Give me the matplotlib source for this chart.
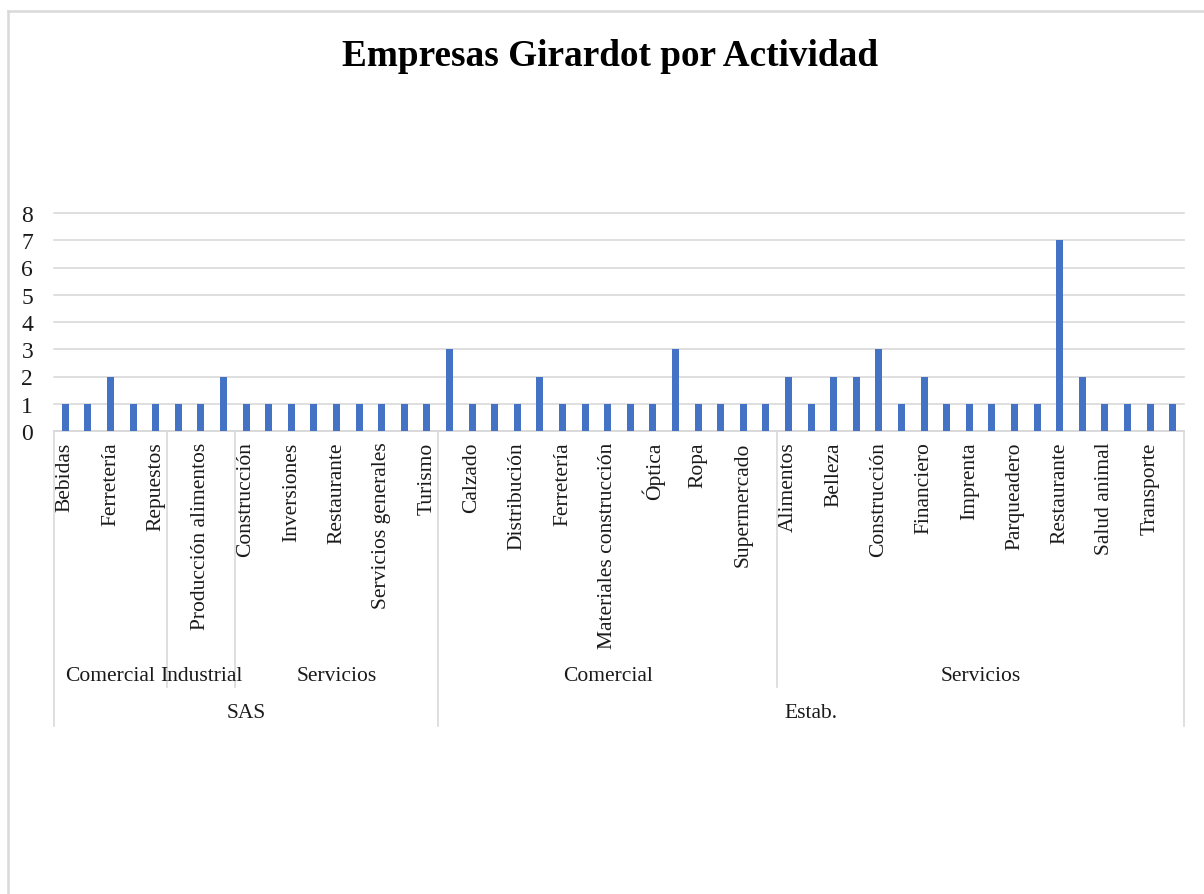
import matplotlib
matplotlib.use("Agg")
import matplotlib.pyplot as plt
from matplotlib.lines import Line2D

plt.rcParams['font.family'] = ['Liberation Serif', 'DejaVu Serif']

title = "Empresas Girardot por Actividad"

# Activity labels (Excel shows every other label; hidden ones left blank)
sas_comercial = ["Bebidas", "", "Ferretería", "", "Repuestos"]
sas_industrial = ["", "Producción alimentos", ""]
sas_servicios = ["Construcción", "", "Inversiones", "", "Restaurante", "",
                 "Servicios generales", "", "Turismo"]
estab_comercial = ["", "Calzado", "", "Distribución", "", "Ferretería", "",
                   "Materiales construcción", "", "Óptica", "", "Ropa", "",
                   "Supermercado", ""]
estab_servicios = ["Alimentos", "", "Belleza", "", "Construcción", "", "Financiero",
                   "", "Imprenta", "", "Parqueadero", "", "Restaurante", "",
                   "Salud animal", "", "Transporte", ""]

v_sas_comercial = [1, 1, 2, 1, 1]
v_sas_industrial = [1, 1, 2]
v_sas_servicios = [1, 1, 1, 1, 1, 1, 1, 1, 1]
v_estab_comercial = [3, 1, 1, 1, 2, 1, 1, 1, 1, 1, 3, 1, 1, 1, 1]
v_estab_servicios = [2, 1, 2, 2, 3, 1, 2, 1, 1, 1, 1, 1, 7, 2, 1, 1, 1, 1]

sector_names = ["Comercial", "Industrial", "Servicios", "Comercial", "Servicios"]
type_names = ["SAS", "Estab."]

groups = [sas_comercial, sas_industrial, sas_servicios, estab_comercial, estab_servicios]
group_vals = [v_sas_comercial, v_sas_industrial, v_sas_servicios, v_estab_comercial, v_estab_servicios]
type_of_group = [0, 0, 0, 1, 1]

labels = [l for g in groups for l in g]
values = [v for g in group_vals for v in g]
n = len(values)
x = list(range(n))

W, H = 1204, 895
fig = plt.figure(figsize=(W / 100, H / 100), dpi=100)
fig.patch.set_facecolor("white")

txt_c = "#1a1a1a"

# chart frame (top & left visible)
frame_c = "#d9d9d9"
fig.add_artist(Line2D([7.5 / W, 7.5 / W], [1 - 12 / H, 0], color=frame_c, lw=1.8))
fig.add_artist(Line2D([7.5 / W, 1], [1 - 12 / H, 1 - 12 / H], color=frame_c, lw=1.8))

x0, x1 = 54, 1184
y0, y1 = 432, 214
ax = fig.add_axes([x0 / W, 1 - y0 / H, (x1 - x0) / W, (y0 - y1) / H])
ax.bar(x, values, width=0.31, color="#4472C4", zorder=3)
ax.set_xlim(-0.5, n - 0.5)
ax.set_ylim(0, 8)
ax.set_yticks(range(0, 9))
ax.yaxis.grid(True, color="#d9d9d9", lw=1.2, zorder=0)
for gl in ax.yaxis.get_gridlines():
    gl.set_clip_on(False)
for s in ["top", "right", "left"]:
    ax.spines[s].set_visible(False)
ax.spines["bottom"].set_color("#d9d9d9")
ax.spines["bottom"].set_linewidth(1.2)
ax.tick_params(axis="y", length=0, labelsize=17, pad=15, labelcolor=txt_c)
ax.set_xticks(x)
ax.set_xticklabels(labels, rotation=90, fontsize=15.5, color=txt_c)
ax.tick_params(axis="x", length=0, pad=7.5)

ph = y0 - y1
def ay(py):
    return -(py - y0) / ph

tr = ax.get_xaxis_transform()
kw = dict(transform=tr, clip_on=False, color="#d9d9d9", lw=1.2)

# group boundaries
start = 0
bounds = []
for g in groups:
    bounds.append((start, start + len(g)))
    start += len(g)

y_l1 = ay(688)
y_l2 = ay(727)
# outer edges
ax.plot([-0.5, -0.5], [0, y_l2], **kw)
ax.plot([n - 0.5, n - 0.5], [0, y_l2], **kw)
for i, (a, b) in enumerate(bounds):
    if i > 0:
        is_type_edge = type_of_group[i] != type_of_group[i - 1]
        ax.plot([a - 0.5, a - 0.5], [0, y_l2 if is_type_edge else y_l1], **kw)
    ax.text((a + b - 1) / 2, ay(677), sector_names[i], transform=tr, ha="center",
            va="center", fontsize=15.5, color=txt_c)

for t, name in enumerate(type_names):
    idx = [i for i, tg in enumerate(type_of_group) if tg == t]
    a = bounds[idx[0]][0]
    b = bounds[idx[-1]][1]
    ax.text((a + b - 1) / 2, ay(714), name, transform=tr, ha="center",
            va="center", fontsize=15.5, color=txt_c)

fig.text(610 / W, 1 - 56 / H, title, ha="center", va="center",
         fontsize=26.8, fontweight="bold", color="black")

fig.savefig("out.png", dpi=100, facecolor="white")
